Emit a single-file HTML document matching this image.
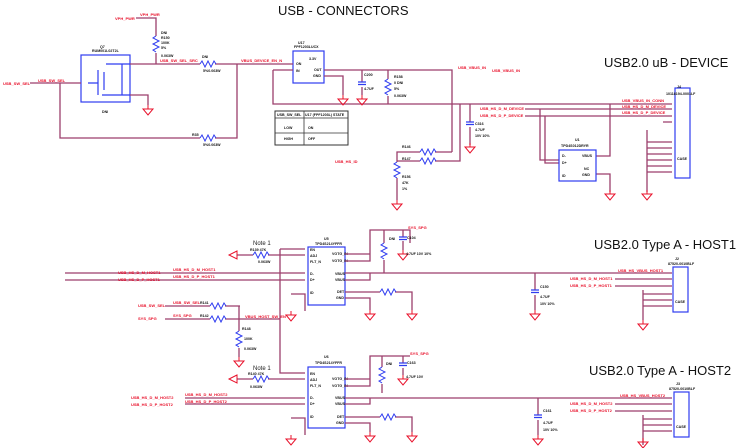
<!DOCTYPE html>
<html><head><meta charset="utf-8"><style>
html,body{margin:0;padding:0;background:#fff;width:736px;height:448px;overflow:hidden}
svg{display:block}
text{font-family:"Liberation Sans",sans-serif}
.w{stroke:#9c3f6c;stroke-width:1.3;fill:none}
.b{stroke:#2f3cf0;stroke-width:1.2;fill:none}
.r{fill:#e8102a;font-size:4px;font-weight:bold}
.k{fill:#111;font-size:3.6px;font-weight:bold}
.t{fill:#111;font-size:13px}
.g{stroke:#e8102a;stroke-width:1;fill:none}
</style></head><body>
<svg width="736" height="448" viewBox="0 0 736 448">
<defs>
<g id="gnd"><path class="g" d="M0 0 V4 M-5 4 H5 L0 10 Z"/></g>
<g id="res"><path d="M0 0 l2 -3 l3 6 l3 -6 l3 6 l3 -6 l2 3" stroke="#2f3cf0" stroke-width="1" fill="none"/></g>
<g id="resv"><path d="M0 0 l-3 2 l6 3 l-6 3 l6 3 l-6 3 l3 2" stroke="#2f3cf0" stroke-width="1" fill="none"/></g>
<g id="cap"><path d="M-4 0 H4 M-4 2.5 H4" stroke="#2f3cf0" stroke-width="1.2"/></g>
</defs>
<text class="t" x="278" y="15" font-size="14">USB - CONNECTORS</text>
<text class="t" x="604" y="67">USB2.0 uB - DEVICE</text>
<text class="t" x="594" y="249">USB2.0 Type A - HOST1</text>
<text class="t" x="589" y="375">USB2.0 Type A - HOST2</text>

<!-- Top section -->
<text class="r" x="115" y="20">VPH_PWR</text><text class="r" x="140" y="16">VPH_PWR</text>
<path class="w" d="M136 18 H156 V36"/>
<use href="#resv" x="156" y="36"/><path class="w" d="M156 53 V64"/>
<text class="k" x="161" y="34">DNI</text><text class="k" x="161" y="39">R150</text><text class="k" x="161" y="44">100K</text><text class="k" x="161" y="49">5%</text><text class="k" x="161" y="57">0.063W</text>
<rect class="b" x="81" y="55" width="49" height="47"/>
<text class="k" x="100" y="48">Q7</text><text class="k" x="92" y="52">RUM001L02T2L</text>
<path class="b" d="M88 83 H98 M98 70 V95 M106 64 H130 M106 95 H130 M122 64 V95 M104 72 V90 M102 95 H112"/>
<text class="k" x="102" y="113">DNI</text>
<text class="r" x="3" y="85">USB_SW_SEL</text><text class="r" x="38" y="82">USB_SW_SEL</text>
<path class="w" d="M30 83 H81 M60 83 V138 H200 M215 138 H237 V64"/>
<use href="#res" x="200" y="138"/><text class="k" x="192" y="136">R35</text><text class="k" x="203" y="146">5%0.063W</text>
<path class="w" d="M130 64 H200 M215 64 H290 M130 95 H148 V105"/><use href="#gnd" x="148" y="105"/>
<use href="#res" x="200" y="64"/><text class="k" x="202" y="58">DNI</text><text class="k" x="203" y="72">5%0.063W</text>
<text class="r" x="160" y="62">USB_SW_SEL_SRC</text><text class="r" x="241" y="62">VBUS_DEVICE_EN_N</text>
<rect class="b" x="293" y="51" width="31" height="32"/>
<text class="k" x="298" y="44">U17</text><text class="k" x="294" y="48">FPF1203LUCX</text>
<text class="k" x="309" y="60">3.3V</text><text class="k" x="296" y="65">ON</text><text class="k" x="296" y="72">IN</text><text class="k" x="314" y="71">OUT</text><text class="k" x="313" y="77">GND</text>
<path class="w" d="M290 64 H293 M273 70 H293 M273 70 V104 H610 M324 70 H452 V152 M324 76 H343 V95 M362 70 V82 M362 87 V95 M388 70 V79 M388 96 V104"/>
<use href="#gnd" x="343" y="95"/><use href="#gnd" x="362" y="95"/><use href="#cap" x="362" y="82"/><use href="#resv" x="388" y="79"/>
<text class="k" x="364" y="76">C200</text><text class="k" x="364" y="90">4.7UF</text><text class="k" x="394" y="78">R158</text><text class="k" x="394" y="84">0 DNI</text><text class="k" x="394" y="90">5%</text><text class="k" x="394" y="97">0.063W</text>
<text class="r" x="458" y="69">USB_VBUS_IN</text><text class="r" x="492" y="72">USB_VBUS_IN</text>
<rect x="275" y="111" width="73" height="34" fill="none" stroke="#333" stroke-width="1"/>
<path d="M275 118 H348 M275 133 H348 M304 111 V145" stroke="#333" stroke-width="0.8"/>
<text class="k" x="277" y="116">USB_SW_SEL</text><text class="k" x="305" y="116">U17 (FPF1203L) STATE</text>
<text class="k" x="284" y="129">LOW</text><text class="k" x="308" y="129">ON</text><text class="k" x="284" y="140">HIGH</text><text class="k" x="308" y="140">OFF</text>
<!-- device lines -->
<path class="w" d="M452 152 H435 M420 152 H397 V160 M397 161 H420 M435 161 H460 V104 M397 160 V162 M397 178 V200 M470 104 V122 M470 127 V145"/>
<use href="#res" x="420" y="152"/><use href="#res" x="420" y="161"/><use href="#resv" x="397" y="162"/><use href="#cap" x="470" y="122"/>
<use href="#gnd" x="397" y="200"/><use href="#gnd" x="470" y="143"/>
<text class="r" x="335" y="163">USB_HS_ID</text><text class="k" x="402" y="148">R146</text><text class="k" x="402" y="160">R147</text><text class="k" x="402" y="178">R156</text><text class="k" x="402" y="184">47K</text><text class="k" x="402" y="190">1%</text>
<text class="k" x="475" y="125">C316</text><text class="k" x="475" y="131">4.7UF</text><text class="k" x="475" y="137">10V 10%</text>
<path class="w" d="M525 109 H672 M525 116 H672 M540 109 V160 H559 M545 116 V163 H559 M610 104 H672 M596 156 H610 V104 M596 174 H610 V192 M647 130 V192 M647 142 H672 M647 148 H672 M647 154 H672 M647 160 H672 M647 166 H672 M647 172 H672 M663 122 H672"/>
<use href="#gnd" x="610" y="190"/><use href="#gnd" x="647" y="190"/>
<text class="r" x="480" y="110">USB_HS_D_M_DEVICE</text><text class="r" x="480" y="117">USB_HS_D_P_DEVICE</text>
<text class="r" x="622" y="102">USB_VBUS_IN_CONN</text><text class="r" x="622" y="108">USB_HS_D_M_DEVICE</text><text class="r" x="622" y="114">USB_HS_D_P_DEVICE</text>
<rect class="b" x="559" y="150" width="37" height="31"/><text class="k" x="575" y="141">U1</text><text class="k" x="561" y="147">TPD4S012DRYR</text>
<text class="k" x="562" y="157">D-</text><text class="k" x="562" y="164">D+</text><text class="k" x="562" y="177">ID</text><text class="k" x="582" y="157">VBUS</text><text class="k" x="584" y="170">NC</text><text class="k" x="582" y="176">GND</text>
<rect class="b" x="675" y="88" width="15" height="90"/><text class="k" x="677" y="88">J4</text><text class="k" x="666" y="95">10118194-0001LF</text><text class="k" x="677" y="160">CASE</text>

<!-- HOST1 -->
<rect class="b" x="308" y="247" width="37" height="58"/><text class="k" x="324" y="240">U5</text><text class="k" x="315" y="245">TPD4S214YFFR</text>
<text class="k" x="310" y="251">EN</text><text class="k" x="310" y="257">ADJ</text><text class="k" x="310" y="263">FLT_N</text><text class="k" x="310" y="275">D-</text><text class="k" x="310" y="281">D+</text><text class="k" x="310" y="294">ID</text>
<text class="k" x="332" y="255">VOTG_IN</text><text class="k" x="332" y="262">VOTG_IN</text><text class="k" x="335" y="275">VBUS</text><text class="k" x="335" y="281">VBUS</text><text class="k" x="337" y="293">DET</text><text class="k" x="336" y="299">GND</text>
<path class="w" d="M280 249 H305 M280 249 V373 H305 M237 255 H253 M268 255 H305 M65 273 H305 M65 280 H305 M291 294 H305 V311 M345 254 H370 M345 261 H370 V230 H410 V243 M384 230 V243 M384 260 V273 M403 230 V237 M403 241 V250 M345 273 H672 M345 280 H370 V273 M345 292 H380 M395 292 H412 V310 M345 298 H370 V310 M535 273 V290 M535 295 V310 M643 290 V320 M643 294 H672 M643 300 H672 M643 306 H672"/>
<path class="g" d="M237 251 L229 255 L237 259 Z"/>
<use href="#res" x="253" y="255"/><use href="#resv" x="384" y="243"/><use href="#cap" x="403" y="237"/><use href="#res" x="380" y="292"/><use href="#cap" x="535" y="290"/>
<use href="#gnd" x="291" y="311"/><use href="#gnd" x="370" y="310"/><use href="#gnd" x="412" y="310"/><use href="#gnd" x="403" y="250"/><use href="#gnd" x="535" y="310"/><use href="#gnd" x="643" y="320"/>
<text x="253" y="245" font-size="6" fill="#222">Note 1</text><text class="k" x="250" y="251">R139 47K</text><text class="k" x="258" y="263">0.063W</text>
<text class="r" x="408" y="229">SYS_SPG</text><text class="k" x="389" y="240">DNI</text><text class="k" x="407" y="239">C104</text><text class="k" x="406" y="255">4.7UF 10V 10%</text><text class="k" x="540" y="288">C150</text><text class="k" x="540" y="298">4.7UF</text><text class="k" x="540" y="305">10V 10%</text>
<text class="r" x="118" y="274">USB_HS_D_M_HOST1</text><text class="r" x="118" y="281">USB_HS_D_P_HOST1</text>
<text class="r" x="173" y="271">USB_HS_D_M_HOST1</text><text class="r" x="173" y="278">USB_HS_D_P_HOST1</text>
<text class="r" x="618" y="272">USB_HS_VBUS_HOST1</text><text class="r" x="570" y="280">USB_HS_D_M_HOST1</text><text class="r" x="570" y="287">USB_HS_D_P_HOST1</text>
<path class="w" d="M615 279 H672 M615 286 H672"/>
<rect class="b" x="673" y="267" width="15" height="45"/><text class="k" x="675" y="260">J2</text><text class="k" x="668" y="265">87520-0010BLF</text><text class="k" x="675" y="303">CASE</text>
<!-- SW section -->
<text class="r" x="138" y="307">USB_SW_SEL</text><text class="r" x="138" y="320">SYS_SPG</text>
<text class="r" x="173" y="304">USB_SW_SEL</text><text class="r" x="173" y="317">SYS_SPG</text>
<path class="w" d="M165 306 H210 M225 306 H240 M165 319 H210 M225 319 H280 M239 306 V319 M239 319 V331 M239 348 V357"/>
<use href="#res" x="210" y="306"/><use href="#res" x="210" y="319"/><use href="#resv" x="239" y="331"/><use href="#gnd" x="239" y="357"/>
<text class="k" x="200" y="304">R141</text><text class="k" x="200" y="317">R142</text><text class="k" x="242" y="330">R148</text><text class="k" x="244" y="340">100K</text><text class="k" x="244" y="350">0.063W</text>
<text class="r" x="245" y="318">VBUS_HOST_SW_EN</text>

<!-- HOST2 -->
<rect class="b" x="308" y="367" width="37" height="61"/><text class="k" x="324" y="358">U6</text><text class="k" x="315" y="364">TPD4S214YFFR</text>
<text class="k" x="310" y="375">EN</text><text class="k" x="310" y="381">ADJ</text><text class="k" x="310" y="387">FLT_N</text><text class="k" x="310" y="399">D-</text><text class="k" x="310" y="405">D+</text><text class="k" x="310" y="418">ID</text>
<text class="k" x="332" y="380">VOTG_IN</text><text class="k" x="332" y="387">VOTG_IN</text><text class="k" x="335" y="399">VBUS</text><text class="k" x="335" y="405">VBUS</text><text class="k" x="337" y="418">DET</text><text class="k" x="336" y="424">GND</text>
<path class="w" d="M237 379 H253 M268 379 H305 M185 398 H305 M185 404 H305 M291 418 H305 V435 M345 379 H370 M345 386 H370 V356 H410 M382 356 V367 M382 384 V393 M403 356 V363 M403 368 V375 M345 398 H672 M345 404 H370 V398 M345 417 H380 M395 417 H412 V432 M345 423 H370 V432 M538 398 V415 M538 420 V435 M643 415 V445 M643 419 H672 M643 425 H672 M643 431 H672"/>
<path class="g" d="M237 375 L229 379 L237 383 Z"/>
<use href="#res" x="253" y="379"/><use href="#resv" x="382" y="367"/><use href="#cap" x="403" y="363"/><use href="#res" x="380" y="417"/><use href="#cap" x="538" y="415"/>
<use href="#gnd" x="291" y="435"/><use href="#gnd" x="370" y="432"/><use href="#gnd" x="412" y="432"/><use href="#gnd" x="403" y="375"/><use href="#gnd" x="538" y="435"/><use href="#gnd" x="643" y="438"/>
<text x="253" y="370" font-size="6" fill="#222">Note 1</text><text class="k" x="248" y="375">R140 47K</text><text class="k" x="250" y="388">0.063W</text>
<text class="r" x="410" y="355">SYS_SPG</text><text class="k" x="386" y="365">DNI</text><text class="k" x="407" y="364">C163</text><text class="k" x="406" y="378">4.7UF 10V</text><text class="k" x="543" y="412">C161</text><text class="k" x="543" y="424">4.7UF</text><text class="k" x="543" y="431">10V 10%</text>
<text class="r" x="131" y="399">USB_HS_D_M_HOST2</text><text class="r" x="131" y="406">USB_HS_D_P_HOST2</text>
<text class="r" x="185" y="396">USB_HS_D_M_HOST2</text><text class="r" x="185" y="403">USB_HS_D_P_HOST2</text>
<text class="r" x="620" y="397">USB_HS_VBUS_HOST2</text><text class="r" x="570" y="405">USB_HS_D_M_HOST2</text><text class="r" x="570" y="412">USB_HS_D_P_HOST2</text>
<path class="w" d="M615 404 H672 M615 411 H672"/>
<rect class="b" x="674" y="392" width="15" height="45"/><text class="k" x="676" y="385">J3</text><text class="k" x="669" y="390">87520-0010BLF</text><text class="k" x="676" y="428">CASE</text>
</svg>
</body></html>
